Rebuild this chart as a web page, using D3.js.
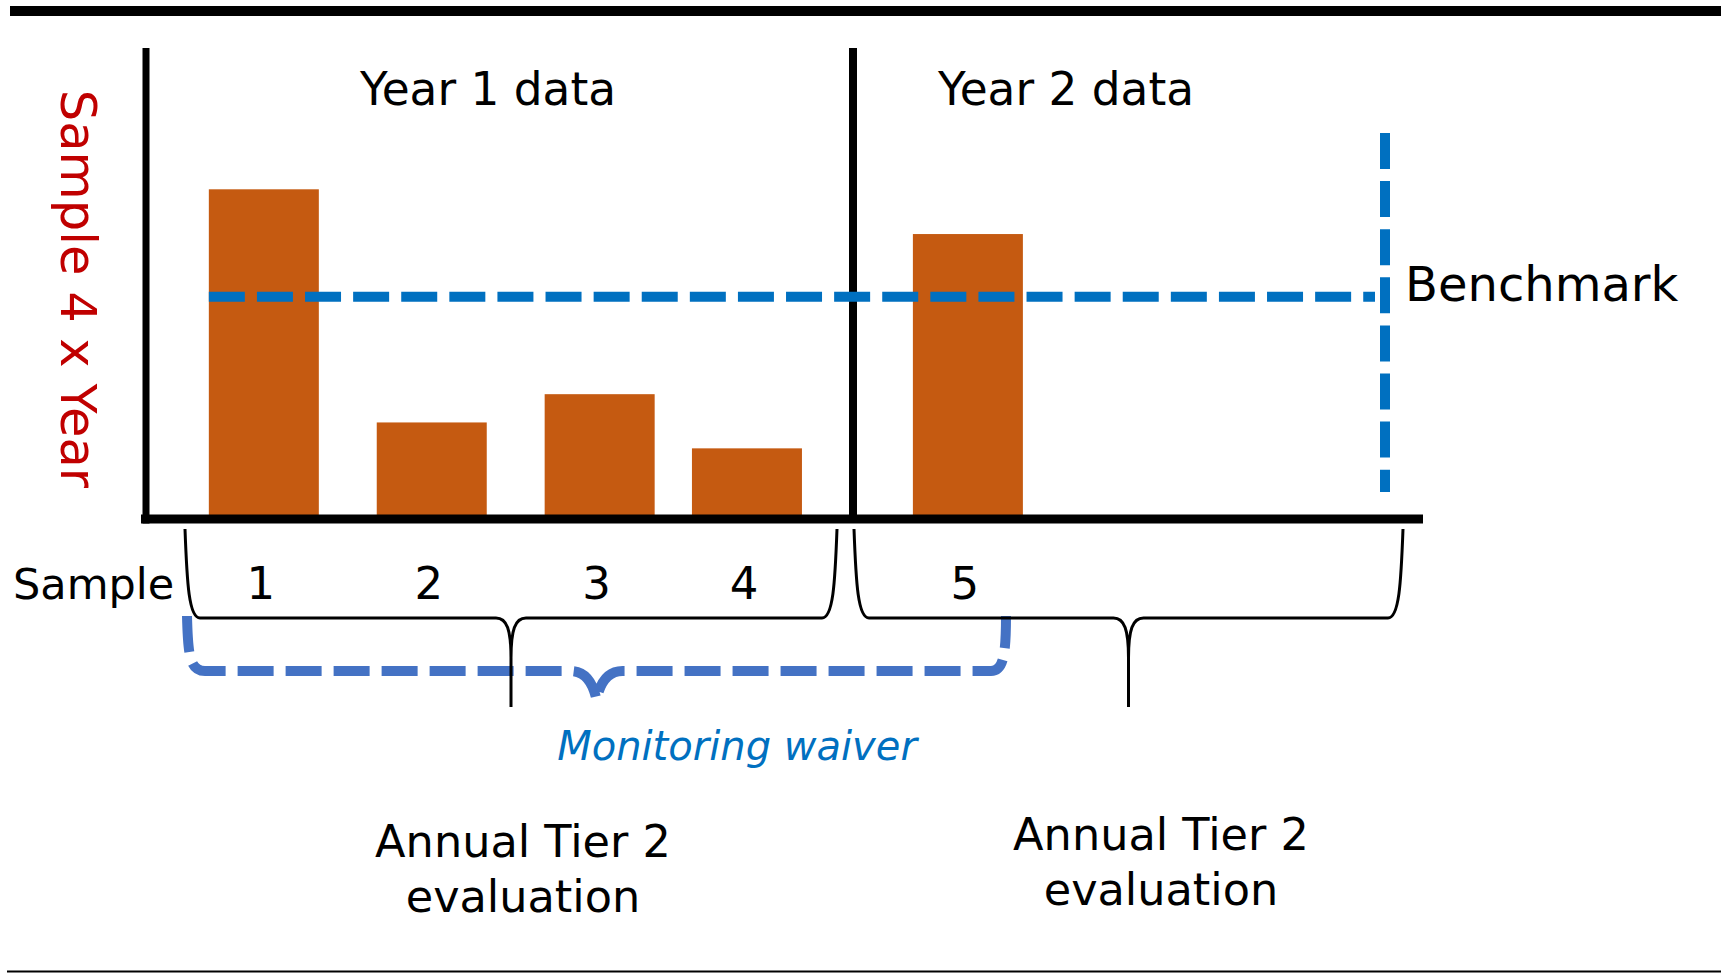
<!DOCTYPE html>
<html>
<head>
<meta charset="utf-8">
<script src="https://cdn.jsdelivr.net/npm/d3@7"></script>
<style>
	body { margin: 0; background: #fff; }
	text { font-family: "DejaVu Sans", Verdana, sans-serif; }
</style>
</head>
<body>
<div id="chart"></div>
<script>
const samples = ["1", "2", "3", "4", "5"]
const sampleMonths = [2.0, 4.85, 7.7, 10.2, 13.95]
const sampleValues = [7.0, 2.05, 2.65, 1.5, 6.05]
const benchmark = 4.72
const yearLabels = ["Year 1 data", "Year 2 data"]
const evaluationLines = ["Annual Tier 2", "evaluation"]

class SamplingChart {
	constructor(containerElem) {
		this.width = 1721
		this.height = 973
		this.barWidth = 110
		this.orange = "#C55A11"
		this.blue = "#0070C0"
		this.x = d3.scaleLinear().domain([0, 12]).range([146, 853])
		this.y = d3.scaleLinear().domain([0, 10]).range([519, 48])

		this.svg = d3.select(containerElem).append("svg")
			.attr("width", this.width)
			.attr("height", this.height)

		this.appendFrameLines()
		this.appendBars()
		this.appendAxes()
		this.appendBenchmark()
		this.appendLabels()
		this.appendBraces()
	}

	appendFrameLines() {
		this.svg.append("line")
			.attr("x1", 10).attr("x2", this.width)
			.attr("y1", 11).attr("y2", 11)
			.attr("stroke", "#000").attr("stroke-width", 10)
		this.svg.append("line")
			.attr("x1", 7).attr("x2", this.width)
			.attr("y1", 971.5).attr("y2", 971.5)
			.attr("stroke", "#000").attr("stroke-width", 2)
	}

	appendBars() {
		this.svg.append("g").selectAll("rect")
			.data(sampleValues)
			.join("rect")
			.attr("x", (d, i) => this.x(sampleMonths[i]) - this.barWidth / 2)
			.attr("y", d => this.y(d))
			.attr("width", this.barWidth)
			.attr("height", d => this.y(0) + 4 - this.y(d))
			.attr("fill", this.orange)
	}

	appendAxes() {
		const axis = this.svg.append("g").attr("stroke", "#000")
		axis.append("line")
			.attr("x1", 141).attr("x2", 1423)
			.attr("y1", this.y(0)).attr("y2", this.y(0))
			.attr("stroke-width", 9)
		axis.append("line")
			.attr("x1", this.x(0)).attr("x2", this.x(0))
			.attr("y1", this.y(10)).attr("y2", this.y(0) + 4.5)
			.attr("stroke-width", 7)
		// divider between year 1 and year 2
		axis.append("line")
			.attr("x1", this.x(12)).attr("x2", this.x(12))
			.attr("y1", this.y(10)).attr("y2", this.y(0))
			.attr("stroke-width", 8)
	}

	appendBenchmark() {
		const g = this.svg.append("g")
			.attr("stroke", this.blue)
			.attr("stroke-width", 10)
			.attr("stroke-dasharray", "36,12.1")
		g.append("line")
			.attr("x1", this.x(sampleMonths[0]) - this.barWidth / 2).attr("x2", 1375)
			.attr("y1", this.y(benchmark)).attr("y2", this.y(benchmark))
		g.append("line")
			.attr("x1", 1385).attr("x2", 1385)
			.attr("y1", 133).attr("y2", 492)

		this.svg.append("text")
			.attr("x", 1405).attr("y", this.y(benchmark) + 4)
			.attr("font-size", 48)
			.text("Benchmark")
	}

	appendLabels() {
		this.svg.selectAll(".year-label")
			.data(yearLabels)
			.join("text")
			.attr("class", "year-label")
			.attr("x", (d, i) => [488, 1066][i])
			.attr("y", 105)
			.attr("text-anchor", "middle")
			.attr("font-size", 45.4)
			.text(d => d)

		this.svg.append("text")
			.attr("transform", "translate(61,289) rotate(90)")
			.attr("text-anchor", "middle")
			.attr("font-size", 49.5)
			.attr("fill", "#C00000")
			.text("Sample 4 x Year")

		this.svg.append("text")
			.attr("x", 13).attr("y", 599)
			.attr("font-size", 43)
			.text("Sample")

		this.svg.selectAll(".sample-label")
			.data(samples)
			.join("text")
			.attr("class", "sample-label")
			.attr("x", (d, i) => this.x(sampleMonths[i]) - 3)
			.attr("y", 599)
			.attr("text-anchor", "middle")
			.attr("font-size", 45)
			.text(d => d)

		this.svg.append("text")
			.attr("x", 737).attr("y", 760)
			.attr("text-anchor", "middle")
			.attr("font-size", 40)
			.attr("font-style", "italic")
			.attr("fill", this.blue)
			.text("Monitoring waiver")

		const evalPos = [[523, 857], [1161, 850]]
		evalPos.forEach(([cx, cy]) => {
			this.svg.append("g").selectAll("text")
				.data(evaluationLines)
				.join("text")
				.attr("x", cx)
				.attr("y", (d, i) => cy + i * 55)
				.attr("text-anchor", "middle")
				.attr("font-size", 44.6)
				.text(d => d)
		})
	}

	bracePath(x1, x2, yTop, yMid, yTip) {
		const xm = (x1 + x2) / 2
		return `M${x1},${yTop} C${x1 + 2},${yTop + 55} ${x1 + 4},${yMid} ${x1 + 15},${yMid}` +
			` L${xm - 15},${yMid} C${xm - 4},${yMid} ${xm},${yMid + 12} ${xm},${yMid + 40} L${xm},${yTip}` +
			` M${x2},${yTop} C${x2 - 2},${yTop + 55} ${x2 - 4},${yMid} ${x2 - 15},${yMid}` +
			` L${xm + 15},${yMid} C${xm + 4},${yMid} ${xm},${yMid + 12} ${xm},${yMid + 40}`
	}

	appendBraces() {
		// monitoring waiver bracket (dashed)
		const x1 = 187, x2 = 1006, yTop = 616, yMid = 671, xm = (x1 + x2) / 2
		const waiver = `M${x1},${yTop} C${x1 + 1},${yTop + 40} ${x1 + 3},${yMid} ${x1 + 18},${yMid}` +
			` L${xm - 26},${yMid} C${xm - 10},${yMid} ${xm - 3},${yMid + 14} ${xm},${yMid + 29}` +
			` C${xm + 3},${yMid + 14} ${xm + 10},${yMid} ${xm + 26},${yMid}` +
			` L${x2 - 15},${yMid} C${x2 - 3},${yMid} ${x2},${yTop + 40} ${x2},${yTop}`
		this.svg.append("path")
			.attr("d", waiver)
			.attr("fill", "none")
			.attr("stroke", "#4472C4")
			.attr("stroke-width", 10)
			.attr("stroke-dasharray", "36,12")

		const braces = [[185, 837], [854, 1403]]
		this.svg.append("g").selectAll("path")
			.data(braces)
			.join("path")
			.attr("d", d => this.bracePath(d[0], d[1], 529, 618, 707))
			.attr("fill", "none")
			.attr("stroke", "#000")
			.attr("stroke-width", 3)
	}
}

new SamplingChart(document.getElementById("chart"))
</script>
</body>
</html>
